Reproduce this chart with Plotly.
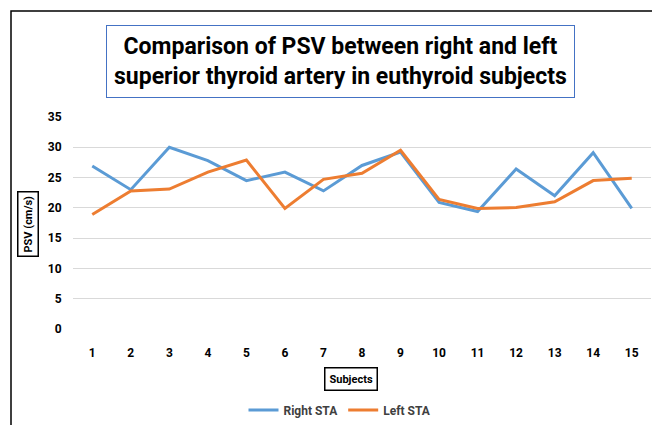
import plotly.graph_objects as go

# Data
subjects = [str(i) for i in range(1, 16)]
right_sta = [26.9, 23.0, 30.0, 27.8, 24.5, 25.9, 22.8, 27.0, 29.2, 20.9, 19.4, 26.4, 22.0, 29.1, 19.9]
left_sta = [18.9, 22.8, 23.1, 25.9, 27.9, 19.9, 24.7, 25.7, 29.5, 21.4, 19.9, 20.05, 21.0, 24.5, 24.9]
y_ticks = [0, 5, 10, 15, 20, 25, 30, 35]

# the page body has an 8px margin, so work in window pixels and shift
OFF = 8
W, H = 660 - OFF, 425 - OFF
L, R, T, B = 73 - OFF, 660 - 651, 117 - OFF, 425 - 329
pw, ph = W - L - R, H - T - B

def px(x):
    return (x - OFF - L) / pw

def py(y):
    return (H - B - (y - OFF)) / ph

FONT = "Roboto, sans-serif"

fig = go.Figure()
fig.add_trace(go.Scatter(x=subjects, y=right_sta, mode="lines", name="Right STA",
                         line=dict(color="#5B9BD5", width=3)))
fig.add_trace(go.Scatter(x=subjects, y=left_sta, mode="lines", name="Left STA",
                         line=dict(color="#ED7D31", width=3)))

fig.update_layout(
    width=W, height=H,
    margin=dict(l=L, r=R, t=T, b=B, autoexpand=False),
    paper_bgcolor="white", plot_bgcolor="white",
    font=dict(family=FONT, color="#000000", size=13),
    xaxis=dict(type="category", range=[-0.5, 14.5], showgrid=False, showline=False, zeroline=False,
               ticks="outside", ticklen=13, tickcolor="rgba(0,0,0,0)",
               tickfont=dict(family=FONT, size=12, weight="bold")),
    yaxis=dict(range=[0, 35], tickvals=y_ticks, showgrid=True, gridcolor="#D9D9D9",
               gridwidth=1, zeroline=False, showline=False,
               ticks="outside", ticklen=8, tickcolor="rgba(0,0,0,0)",
               tickfont=dict(family=FONT, size=12, weight="bold")),
    legend=dict(orientation="h", x=px(340), xanchor="center", y=py(410), yanchor="middle",
                font=dict(family=FONT, size=12, weight="bold", color="#404040"),
                itemwidth=30, bgcolor="rgba(0,0,0,0)"),
    shapes=[dict(type="rect", xref="paper", yref="paper",
                 x0=px(11), x1=px(656), y0=py(440), y1=py(11),
                 line=dict(color="#000000", width=1.5), fillcolor="rgba(0,0,0,0)", layer="below")],
    annotations=[
        dict(text="<b>Comparison of PSV between right and left<br>superior thyroid artery in euthyroid subjects</b>",
             xref="paper", yref="paper", x=px(340), y=py(61), xanchor="center", yanchor="middle",
             showarrow=False, font=dict(family=FONT, size=23, color="#000000"),
             bordercolor="#4472C4", borderwidth=1, borderpad=7, bgcolor="white", align="center"),
        dict(text="<b>PSV (cm/s)</b>", textangle=-90, xref="paper", yref="paper",
             x=px(28), y=py(224), xanchor="center", yanchor="middle", showarrow=False,
             font=dict(family=FONT, size=11, color="#000000"),
             bordercolor="#000000", borderwidth=1.5, borderpad=3),
        dict(text="<b>Subjects</b>", xref="paper", yref="paper",
             x=px(351), y=py(379), xanchor="center", yanchor="middle", showarrow=False,
             font=dict(family=FONT, size=11, color="#000000"),
             bordercolor="#000000", borderwidth=1.5, borderpad=4),
    ],
)

fig.write_html("out.html")
